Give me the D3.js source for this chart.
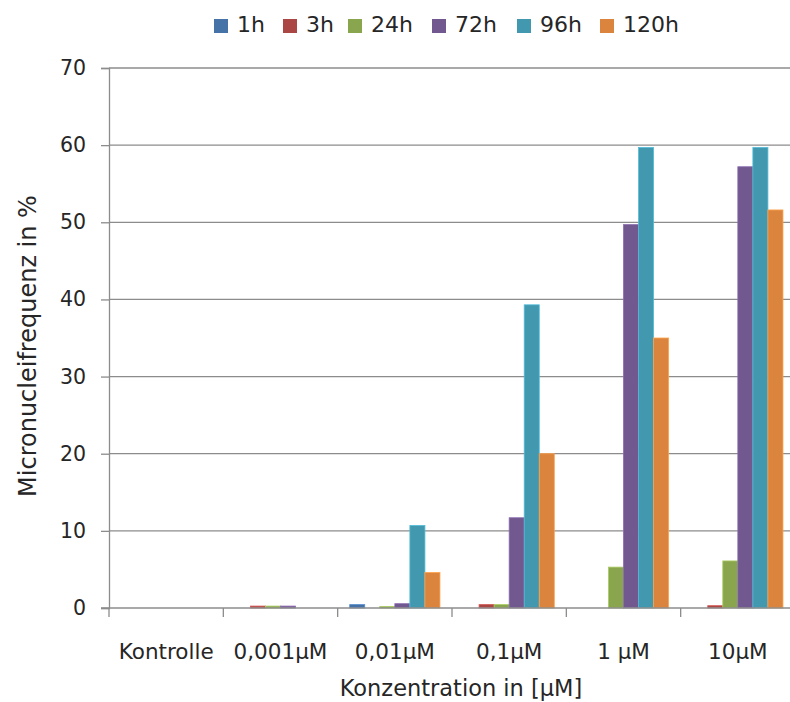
<!DOCTYPE html>
<html><head><meta charset="utf-8">
<script src="https://cdn.jsdelivr.net/npm/d3@7"></script>
<style>body{margin:0;background:#fff;} text{font-family:"DejaVu Sans",sans-serif;fill:#262626;}</style>
</head><body><svg id="c" width="790" height="702"></svg>
<script>
const categories = ["Kontrolle","0,001µM","0,01µM","0,1µM","1 µM","10µM"];
const seriesNames = ["1h","3h","24h","72h","96h","120h"];
const colors = ["#4572A7","#AA4643","#89A54E","#71588F","#4198AF","#DB843D"];
const v1h  = [0, 0,   0.44, 0,    0,    0];
const v3h  = [0, 0.25,0,    0.44, 0,    0.3];
const v24h = [0, 0.25,0.2,  0.44, 5.3,  6.1];
const v72h = [0, 0.25,0.56, 11.7, 49.7, 57.2];
const v96h = [0, 0,   10.7, 39.3, 59.7, 59.7];
const v120h= [0, 0,   4.6,  20.0, 35.0, 51.6];
const yTicks = [0,10,20,30,40,50,60,70];
const values = [v1h,v3h,v24h,v72h,v96h,v120h];

const svg = d3.select("#c");
const L=109, R=795, T=68, B=608;
const x = d3.scaleBand().domain(categories).range([L,R]).paddingInner(0).paddingOuter(0);
const x1 = d3.scaleBand().domain(seriesNames).range([0,x.bandwidth()]).paddingOuter(0.8).paddingInner(0);
const y = d3.scaleLinear().domain([0,70]).range([B,T]);

// gridlines
svg.append("g").selectAll("line").data(yTicks.filter(d=>d>0)).join("line")
  .attr("x1",L).attr("x2",R).attr("y1",d=>y(d)).attr("y2",d=>y(d))
  .attr("stroke","#8c8c8c").attr("stroke-width",1.3);

// y axis
const ya = svg.append("g").attr("transform",`translate(${L},0)`)
  .call(d3.axisLeft(y).tickValues(yTicks).tickSize(8).tickPadding(15));
ya.select(".domain").attr("stroke","#8c8c8c").attr("stroke-width",1.3);
ya.selectAll(".tick line").attr("stroke","#8c8c8c").attr("stroke-width",1.3);
ya.selectAll(".tick text").attr("font-size",20.5).style("font-family","DejaVu Sans").attr("fill","#262626");

// bars
const g = svg.append("g");
categories.forEach((c,ci)=>{
  g.append("g").attr("transform",`translate(${x(c)},0)`)
   .selectAll("rect").data(seriesNames.map((s,si)=>({s,si,v:values[si][ci]})).filter(d=>d.v>0)).join("rect")
   .attr("x",d=>x1(d.s)).attr("width",x1.bandwidth())
   .attr("y",d=>y(d.v)).attr("height",d=>y(0)-y(d.v))
   .attr("fill",d=>colors[d.si])
   .attr("stroke",d=>d3.color(colors[d.si]).brighter(0.6)).attr("stroke-width",0.8);
});

// x axis
const xa = svg.append("g").attr("transform",`translate(0,${B})`)
  .call(d3.axisBottom(x).tickSize(0).tickPadding(36));
xa.select(".domain").remove();
svg.append("line").attr("x1",L-8).attr("x2",R).attr("y1",B).attr("y2",B).attr("stroke","#8c8c8c").attr("stroke-width",1.3);
const bounds = categories.map(c=>x(c)).concat([R]);
svg.append("g").selectAll("line").data(bounds).join("line")
  .attr("x1",d=>d).attr("x2",d=>d).attr("y1",B).attr("y2",B+9)
  .attr("stroke","#8c8c8c").attr("stroke-width",1.3);
xa.selectAll(".tick text").attr("font-size",21.5).style("font-family","DejaVu Sans").attr("fill","#262626");

// axis titles
svg.append("text").attr("x",461).attr("y",696).attr("text-anchor","middle").attr("font-size",22.5).text("Konzentration in [µM]");
svg.append("text").attr("transform","translate(36,346) rotate(-90)").attr("text-anchor","middle").attr("font-size",24).text("Micronucleifrequenz in %");

// legend
const legX = [214,283,348,432,517,600];
const leg = svg.append("g").selectAll("g").data(seriesNames).join("g")
  .attr("transform",(d,i)=>`translate(${legX[i]},0)`);
leg.append("rect").attr("x",0).attr("y",19).attr("width",14).attr("height",14).attr("fill",(d,i)=>colors[i]);
leg.append("text").attr("x",23).attr("y",32).attr("font-size",22).text(d=>d);
</script></body></html>
